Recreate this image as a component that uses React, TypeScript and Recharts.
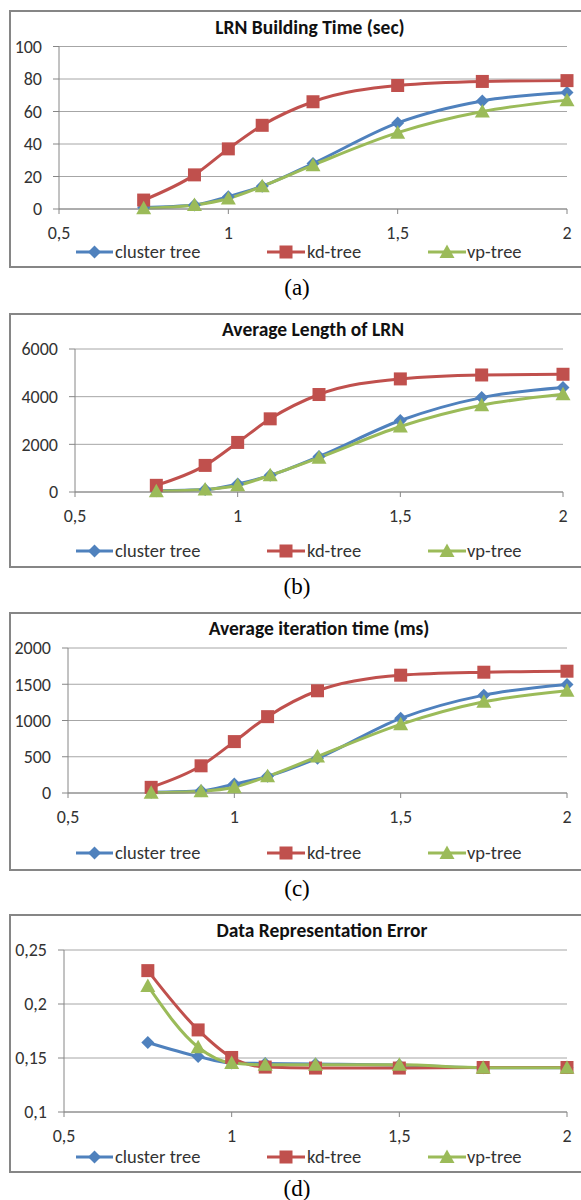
import React from 'react';
import { LineChart, Line, XAxis, YAxis, CartesianGrid, Legend } from 'recharts';

// ---- data ----
const xValues = [0.75, 0.9, 1, 1.1, 1.25, 1.5, 1.75, 2];
const xTicks = [0.5, 1, 1.5, 2];
const seriesNames = ['cluster tree', 'kd-tree', 'vp-tree'];

const buildCluster = [1, 2.5, 7.6, 14, 28, 53, 66.5, 71.7];
const buildKd = [5.5, 21, 37, 51.5, 66, 76, 78.5, 79];
const buildVp = [0.5, 2.5, 6.5, 14, 27, 47, 60, 67];
const buildTicks = [0, 20, 40, 60, 80, 100];

const lengthCluster = [50, 100, 335, 700, 1490, 3000, 3960, 4380];
const lengthKd = [280, 1116, 2080, 3070, 4090, 4745, 4910, 4940];
const lengthVp = [30, 100, 280, 700, 1440, 2750, 3640, 4100];
const lengthTicks = [0, 2000, 4000, 6000];

const iterCluster = [10, 30, 124, 230, 480, 1030, 1350, 1497];
const iterKd = [78, 375, 709, 1053, 1410, 1625, 1666, 1680];
const iterVp = [5, 25, 80, 230, 503, 947, 1258, 1410];
const iterTicks = [0, 500, 1000, 1500, 2000];

const errCluster = [0.1644, 0.1514, 0.1453, 0.145, 0.1445, 0.1435, 0.141, 0.141];
const errKd = [0.2309, 0.176, 0.1505, 0.1416, 0.1407, 0.1407, 0.1412, 0.1412];
const errVp = [0.2167, 0.16, 0.1453, 0.1437, 0.1437, 0.1437, 0.141, 0.141];
const errTicks = [0.1, 0.15, 0.2, 0.25];

// ---- style ----
const BLUE = '#4F81BD';
const RED = '#C0504D';
const GREEN = '#9BBB59';
const FONT = 'Carlito, Lato, "Open Sans", sans-serif';
const TEXT = '#333333';
const AXIS = '#868686';
const GRID = '#A6A6A6';
const TICK_FS = 18;
const LEGEND_FS = 18.5;
const TITLE_FS = 19.5;

const commaFmt = (v: number) => String(v).replace('.', ',');

function buildRows(a: number[], b: number[], c: number[]) {
  return xValues.map((x, i) => ({ x, cluster: a[i], kd: b[i], vp: c[i] }));
}

const Diamond = ({ cx, cy, color, r = 6.5 }: any) => (
  <polygon points={`${cx},${cy - r} ${cx + r},${cy} ${cx},${cy + r} ${cx - r},${cy}`} fill={color} />
);
const Square = ({ cx, cy, color, r = 6.5 }: any) => (
  <rect x={cx - r} y={cy - r} width={2 * r} height={2 * r} fill={color} />
);
const Triangle = ({ cx, cy, color, r = 7.5 }: any) => (
  <polygon points={`${cx},${cy - r} ${cx + r},${cy + r * 0.8} ${cx - r},${cy + r * 0.8}`} fill={color} />
);

const makeDot = (Shape: any, color: string, prefix: string) => (props: any) => {
  const { cx, cy, index } = props;
  if (cx == null || cy == null) return <g key={`${prefix}${index}`} />;
  return (
    <g key={`${prefix}${index}`}>
      <Shape cx={cx} cy={cy} color={color} />
    </g>
  );
};

const legendItems = [
  { name: seriesNames[0], color: BLUE, Shape: Diamond, x1: 76, x2: 113, tx: 115 },
  { name: seriesNames[1], color: RED, Shape: Square, x1: 267, x2: 305, tx: 307 },
  { name: seriesNames[2], color: GREEN, Shape: Triangle, x1: 428, x2: 466, tx: 467 },
];

const LegendContent = () => (
  <svg width={581} height={24} style={{ display: 'block' }}>
    {legendItems.map((it) => (
      <g key={it.name}>
        <line x1={it.x1} x2={it.x2} y1={12} y2={12} stroke={it.color} strokeWidth={3} />
        <it.Shape cx={(it.x1 + it.x2) / 2} cy={12} color={it.color} />
        <text x={it.tx} y={12} dy="0.35em" fontFamily={FONT} fontSize={LEGEND_FS} fill={TEXT}>
          {it.name}
        </text>
      </g>
    ))}
  </svg>
);

type Panel = {
  title: string;
  caption: string;
  top: number;
  bottom: number;
  plotLeft: number;
  plotRight: number;
  plotTop: number;
  plotBottom: number;
  titleX: number;
  titleY: number;
  legendY: number;
  captionY: number;
  yTicks: number[];
  rows: any[];
  fmt: (v: number) => string;
  lineType: any;
};

const panels: Panel[] = [
  {
    title: 'LRN Building Time (sec)', caption: '(a)',
    top: 10, bottom: 268, plotLeft: 59, plotRight: 567, plotTop: 46.5, plotBottom: 209,
    titleX: 310, titleY: 27, legendY: 252, captionY: 288,
    yTicks: buildTicks, rows: buildRows(buildCluster, buildKd, buildVp), fmt: commaFmt, lineType: 'monotone',
  },
  {
    title: 'Average Length of LRN', caption: '(b)',
    top: 313, bottom: 568, plotLeft: 75, plotRight: 563, plotTop: 349, plotBottom: 492,
    titleX: 313, titleY: 329, legendY: 551, captionY: 587,
    yTicks: lengthTicks, rows: buildRows(lengthCluster, lengthKd, lengthVp), fmt: commaFmt, lineType: 'monotone',
  },
  {
    title: 'Average iteration time (ms)', caption: '(c)',
    top: 612, bottom: 871, plotLeft: 68, plotRight: 567, plotTop: 648, plotBottom: 793,
    titleX: 319, titleY: 628, legendY: 853, captionY: 889,
    yTicks: iterTicks, rows: buildRows(iterCluster, iterKd, iterVp), fmt: commaFmt, lineType: 'monotone',
  },
  {
    title: 'Data Representation Error', caption: '(d)',
    top: 914, bottom: 1173, plotLeft: 64, plotRight: 567, plotTop: 950, plotBottom: 1112,
    titleX: 322, titleY: 930, legendY: 1157, captionY: 1189,
    yTicks: errTicks, rows: buildRows(errCluster, errKd, errVp), fmt: commaFmt, lineType: 'monotone',
  },
];

const Y_AXIS_W = 50;
const X_AXIS_H = 30;

function PanelChart({ p }: { p: Panel }) {
  const h = p.bottom - p.top;
  const margin = {
    top: p.plotTop - p.top,
    right: 581 - p.plotRight,
    left: p.plotLeft - Y_AXIS_W,
    bottom: h - (p.plotBottom - p.top) - X_AXIS_H,
  };
  const yMin = p.yTicks[0];
  const yMax = p.yTicks[p.yTicks.length - 1];
  return (
    <>
      <div
        style={{
          position: 'absolute', left: 9, top: p.top, width: 581 - 9, height: h,
          boxSizing: 'border-box', border: `2px solid ${AXIS}`, borderRight: 'none',
        }}
      />
      <div
        style={{
          position: 'absolute', left: p.titleX - 200, width: 400, top: p.titleY - 12,
          textAlign: 'center', fontFamily: FONT, fontWeight: 'bold', fontSize: TITLE_FS, color: '#111',
          lineHeight: '24px',
        }}
      >
        {p.title}
      </div>
      <div style={{ position: 'absolute', left: 0, top: p.top, width: 581, height: h }}>
        <LineChart width={581} height={h} data={p.rows} margin={margin}>
          <CartesianGrid vertical={false} stroke={GRID} strokeWidth={1} />
          <XAxis
            dataKey="x" type="number" domain={[0.5, 2]} ticks={xTicks} interval={0}
            tickFormatter={p.fmt} height={X_AXIS_H} tickSize={5} tickMargin={12}
            axisLine={{ stroke: AXIS }} tickLine={{ stroke: AXIS }}
            tick={{ fill: TEXT, fontSize: TICK_FS, fontFamily: FONT }}
          />
          <YAxis
            type="number" domain={[yMin, yMax]} ticks={p.yTicks} interval={0}
            tickFormatter={p.fmt} width={Y_AXIS_W} tickSize={6} tickMargin={11}
            axisLine={{ stroke: AXIS }} tickLine={{ stroke: AXIS }}
            tick={{ fill: TEXT, fontSize: TICK_FS, fontFamily: FONT }}
          />
          <Legend
            layout="horizontal" verticalAlign="middle" align="center"
            content={() => <LegendContent />}
            wrapperStyle={{ left: 0, top: p.legendY - p.top - 12, width: 581, height: 24 }}
          />
          <Line type={p.lineType} dataKey="cluster" name={seriesNames[0]} stroke={BLUE} strokeWidth={3}
            dot={makeDot(Diamond, BLUE, 'c')} activeDot={false} isAnimationActive={false} />
          <Line type={p.lineType} dataKey="kd" name={seriesNames[1]} stroke={RED} strokeWidth={3}
            dot={makeDot(Square, RED, 'k')} activeDot={false} isAnimationActive={false} />
          <Line type={p.lineType} dataKey="vp" name={seriesNames[2]} stroke={GREEN} strokeWidth={3}
            dot={makeDot(Triangle, GREEN, 'v')} activeDot={false} isAnimationActive={false} />
        </LineChart>
      </div>
      <div
        style={{
          position: 'absolute', left: 297 - 50, width: 100, top: p.captionY - 11,
          textAlign: 'center', fontFamily: '"Liberation Serif", "DejaVu Serif", serif', fontSize: 23,
          lineHeight: '22px', color: '#000',
        }}
      >
        {p.caption}
      </div>
    </>
  );
}

export default function App() {
  return (
    <div style={{ position: 'absolute', left: 0, top: 0, width: 581, height: 1200, background: '#fff', overflow: 'hidden' }}>
      {panels.map((p) => (
        <PanelChart key={p.caption} p={p} />
      ))}
    </div>
  );
}
